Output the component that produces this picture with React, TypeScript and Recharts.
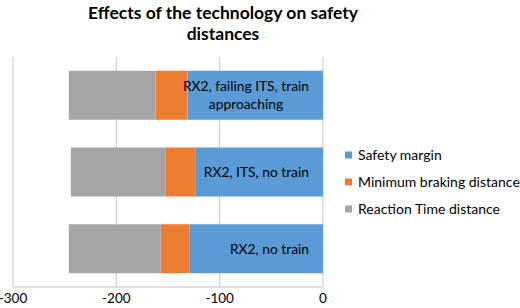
import React from 'react';
import { BarChart, Bar, XAxis, YAxis, CartesianGrid, LabelList } from 'recharts';

// values (distances are drawn as negatives, 0 on the right)
const categories = ['RX2, failing ITS, train approaching', 'RX2, ITS, no train', 'RX2, no train'];
const safetyMargin = [-131, -123, -129];
const brakingDistance = [-31, -29, -28];
const reactionDistance = [-84, -92, -89];
const xTicks = [-300, -200, -100, 0];

const seriesNames = ['Safety margin', 'Minimum braking distance', 'Reaction Time distance'];
const COLORS = ['#5B9BD5', '#ED7D31', '#A5A5A5'];

const FONT = 'Lato, "Open Sans", sans-serif';
const W = 520;
const H = 308;
const PLOT_LEFT = 13;
const PLOT_RIGHT = 323;
const PLOT_TOP = 57;
const PLOT_BOTTOM = 287;

const data = categories.map((name, i) => ({
  name,
  safety: safetyMargin[i],
  braking: brakingDistance[i],
  reaction: reactionDistance[i],
}));

let ctx: CanvasRenderingContext2D | null = null;
const measure = (s: string, font: string) => {
  if (!ctx) ctx = document.createElement('canvas').getContext('2d');
  if (!ctx) return s.length * 7;
  ctx.font = font;
  return ctx.measureText(s).width;
};

const wrap = (s: string, font: string, maxW: number) => {
  const words = s.split(' ');
  const lines: string[] = [];
  let cur = '';
  words.forEach((w) => {
    const next = cur ? cur + ' ' + w : w;
    if (cur && measure(next, font) > maxW) {
      lines.push(cur);
      cur = w;
    } else {
      cur = next;
    }
  });
  if (cur) lines.push(cur);
  return lines;
};

// category names sit inside the bars, right-aligned near the zero line, like Excel does
const CAT_FONT_SIZE = 13.8;
const CategoryLabel = (props: any) => {
  const { x, y, width, height, value } = props;
  const font = `${CAT_FONT_SIZE}px ${FONT}`;
  const lines = wrap(String(value), font, 145);
  const blockW = Math.max(...lines.map((l) => measure(l, font)));
  const right = Math.max(x, x + width);
  const cx = right - 14 - blockW / 2;
  const lh = 18;
  const cy = y + height / 2;
  const y0 = cy - ((lines.length - 1) * lh) / 2;
  return (
    <text textAnchor="middle" fontFamily={FONT} fontSize={CAT_FONT_SIZE} fill="#000">
      {lines.map((l, i) => (
        <tspan key={i} x={cx} y={y0 + i * lh} dy="0.36em">
          {l}
        </tspan>
      ))}
    </text>
  );
};

export default function App() {
  return (
    <div style={{ position: 'absolute', left: 0, top: 0, width: W, height: H, background: '#fff' }}>
      <BarChart
        width={W}
        height={H}
        data={data}
        layout="vertical"
        barCategoryGap="18%"
        margin={{ top: PLOT_TOP, right: W - PLOT_RIGHT, bottom: 1, left: PLOT_LEFT }}
      >
        <CartesianGrid horizontal={false} vertical stroke="#C8C8C8" />
        <XAxis
          type="number"
          domain={[-300, 0]}
          ticks={xTicks}
          allowDataOverflow
          height={H - PLOT_BOTTOM - 1}
          tickLine={false}
          axisLine={{ stroke: '#BFBFBF' }}
          tick={{ fontFamily: FONT, fontSize: 13.5, fill: '#000' }}
          tickMargin={0}
          interval={0}
        />
        <YAxis type="category" dataKey="name" hide />
        <Bar dataKey="safety" stackId="a" fill={COLORS[0]} isAnimationActive={false}>
          <LabelList dataKey="name" content={<CategoryLabel />} />
        </Bar>
        <Bar dataKey="braking" stackId="a" fill={COLORS[1]} isAnimationActive={false} />
        <Bar dataKey="reaction" stackId="a" fill={COLORS[2]} isAnimationActive={false} />
      </BarChart>
      <svg
        width={W}
        height={H}
        style={{ position: 'absolute', left: 0, top: 0, pointerEvents: 'none' }}
      >
        <text textAnchor="middle" fontFamily={FONT} fontWeight="bold" fontSize={17.5} fill="#000">
          <tspan x={223} y={19}>Effects of the technology on safety</tspan>
          <tspan x={223} y={40}>distances</tspan>
        </text>
        {seriesNames.map((n, i) => (
          <g key={n}>
            <rect x={345} y={151.5 + i * 27} width={7} height={7} fill={COLORS[i]} />
            <text x={358} y={155 + i * 27} dy="0.36em" fontFamily={FONT} fontSize={14} fill="#000">
              {n}
            </text>
          </g>
        ))}
      </svg>
    </div>
  );
}
